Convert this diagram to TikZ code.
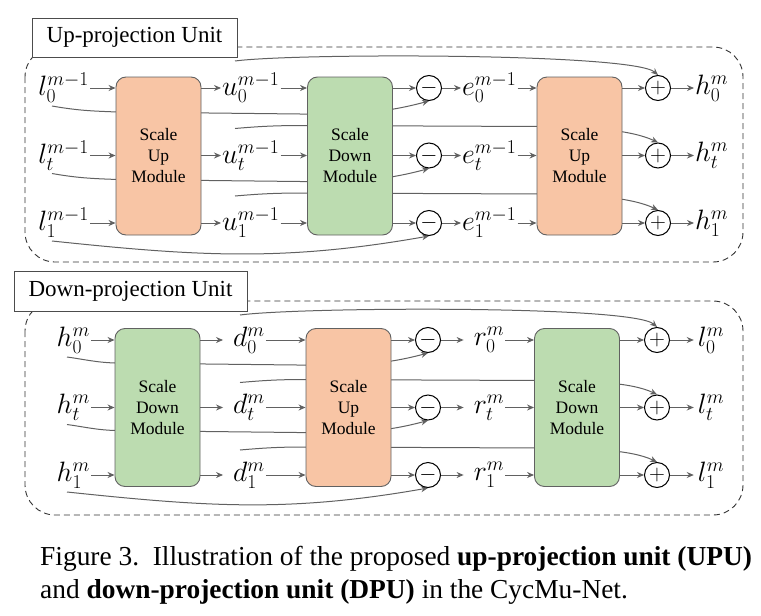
\RequirePackage{fix-cm}
\documentclass[tikz,border=0pt]{standalone}
\usepackage{fontspec}
\setmainfont{Liberation Serif}
\usetikzlibrary{positioning,backgrounds,arrows.meta,calc}

\definecolor{upfill}{HTML}{F8C5A5}
\definecolor{downfill}{HTML}{BCDCB0}
\definecolor{wire}{HTML}{616161}

\tikzset{
  module/.style={draw=wire, line width=0.9pt, rounded corners=10pt, minimum width=85pt, minimum height=158pt, align=center, font=\fontsize{17.5}{21}\selectfont},
  upmod/.style={module, fill=upfill},
  downmod/.style={module, fill=downfill},
  var/.style={inner sep=1pt, font=\fontsize{28}{30}\selectfont},
  op/.style={circle, draw, line width=1pt, fill=white, minimum size=25pt, inner sep=0pt, font=\fontsize{22}{22}\selectfont},
  flow/.style={draw=wire, line width=1pt, -{Stealth[length=7pt,width=6pt]}},
  frame/.style={draw=black!80, line width=0.9pt, dash pattern=on 6pt off 4pt, rounded corners=30pt},
  tag/.style={draw=black!70, line width=0.9pt, fill=white, inner sep=0pt, font=\fontsize{23}{25}\selectfont}
}

\begin{document}
\begin{tikzpicture}[x=1pt,y=1pt]
\useasboundingbox (0,0) rectangle (761,-616);

% up-projection unit
\node[upmod] (up1) at (158.5,-156) {Scale\\Up\\Module};
\node[downmod] (dn1) at (350,-156) {Scale\\Down\\Module};
\node[upmod] (up2) at (579.5,-156) {Scale\\Up\\Module};
\foreach \i/\y in {0/-88, t/-155.5, 1/-223}{
  \node[var, anchor=east] (lin\i) at (90,\y) {$l_{\i}^{m-1}$};
  \node[var, anchor=west] (u\i) at (221,\y) {$u_{\i}^{m-1}$};
  \node[op] (sub\i) at (429,\y) {$-$};
  \node[var, anchor=west] (e\i) at (461,\y) {$e_{\i}^{m-1}$};
  \node[op] (add\i) at (658,\y) {$+$};
  \node[var, anchor=west] (hout\i) at (694,\y) {$h_{\i}^{m}$};
  \draw[flow] (lin\i) -- (up1.west |- lin\i);
  \draw[flow] (up1.east |- u\i) -- (u\i);
  \draw[flow] (u\i) -- (dn1.west |- u\i);
  \draw[flow] (dn1.east |- sub\i) -- (sub\i);
  \draw[flow] (sub\i) -- (e\i);
  \draw[flow] (e\i) -- (up2.west |- e\i);
  \draw[flow] (up2.east |- add\i) -- (add\i);
  \draw[flow] (add\i) -- (hout\i);
  \coordinate (ls\i) at (52,\y-18);
  \coordinate (us\i) at (235,\y+27);
}
\node[tag, minimum width=205pt, minimum height=39pt] (uptag) at (134.5,-37.5) {Up-projection Unit};

% down-projection unit
\node[downmod] (dn2) at (157.5,-407.5) {Scale\\Down\\Module};
\node[upmod] (up3) at (348.5,-407.5) {Scale\\Up\\Module};
\node[downmod] (dn3) at (577,-407.5) {Scale\\Down\\Module};
\foreach \i/\y in {0/-340, t/-407.5, 1/-475}{
  \node[var, anchor=east] (hin\i) at (91,\y) {$h_{\i}^{m}$};
  \node[var] (d\i) at (249,\y) {$d_{\i}^{m}$};
  \node[op] (dif\i) at (428,\y) {$-$};
  \node[var] (r\i) at (489,\y) {$r_{\i}^{m}$};
  \node[op] (sum\i) at (657,\y) {$+$};
  \node[var] (lout\i) at (711,\y) {$l_{\i}^{m}$};
  \draw[flow] (hin\i) -- (dn2.west |- hin\i);
  \draw[flow, shorten >=9pt] (dn2.east |- d\i) -- (d\i);
  \draw[flow] (d\i) -- (up3.west |- d\i);
  \draw[flow] (up3.east |- dif\i) -- (dif\i);
  \draw[flow, shorten >=9pt] (dif\i) -- (r\i);
  \draw[flow] (r\i) -- (dn3.west |- r\i);
  \draw[flow] (dn3.east |- sum\i) -- (sum\i);
  \draw[flow, shorten >=3pt] (sum\i) -- (lout\i);
  \coordinate (hs\i) at (67,\y-17);
  \coordinate (ds\i) at (240,\y+25);
}
\node[tag, minimum width=233pt, minimum height=40pt] (dntag) at (130.5,-291) {Down-projection Unit};

% skip paths behind the modules
\begin{scope}[on background layer]
  \draw[frame] (25,-47) rectangle (743,-262);
  \draw[frame] (25,-301) rectangle (743,-515);
  \foreach \i in {0,t}{
    \draw[flow] (ls\i) to[out=-10,in=178] ++(66,-6) -- ++(182,-2) to[out=0,in=-165] (sub\i.south);
    \draw[flow] (hs\i) to[out=-8,in=178] ++(48,-6) -- ++(182,-2) to[out=0,in=-165] (dif\i.south);
  }
  \draw[flow] (ls1) to[out=-6,in=-170] (sub1.south);
  \draw[flow] (hs1) to[out=-6,in=-170] (dif1.south);
  \draw[flow] (us0) .. controls +(60,8) and +(-25,22) .. (add0.north);
  \draw[flow] (ds0) .. controls +(60,8) and +(-25,22) .. (sum0.north);
  \foreach \i in {t,1}{
    \draw[flow] (us\i) to[out=5,in=180] ++(72,3) -- ++(233,-1) .. controls +(50,0) and +(-25,12) .. (add\i.north);
    \draw[flow] (ds\i) to[out=5,in=180] ++(66,3) -- ++(233,-1) .. controls +(50,0) and +(-25,12) .. (sum\i.north);
  }
\end{scope}

% caption
\node[anchor=base west, inner sep=0pt, font=\fontsize{27.4}{33}\selectfont] (cap1) at (40,-565)
  {Figure 3.\ \ Illustration of the proposed \textbf{up-projection unit (UPU)}};
\node[anchor=base west, inner sep=0pt, font=\fontsize{27.4}{33}\selectfont] (cap2) at (40,-598)
  {and \textbf{down-projection unit (DPU)} in the CycMu-Net.};
\end{tikzpicture}
\end{document}
